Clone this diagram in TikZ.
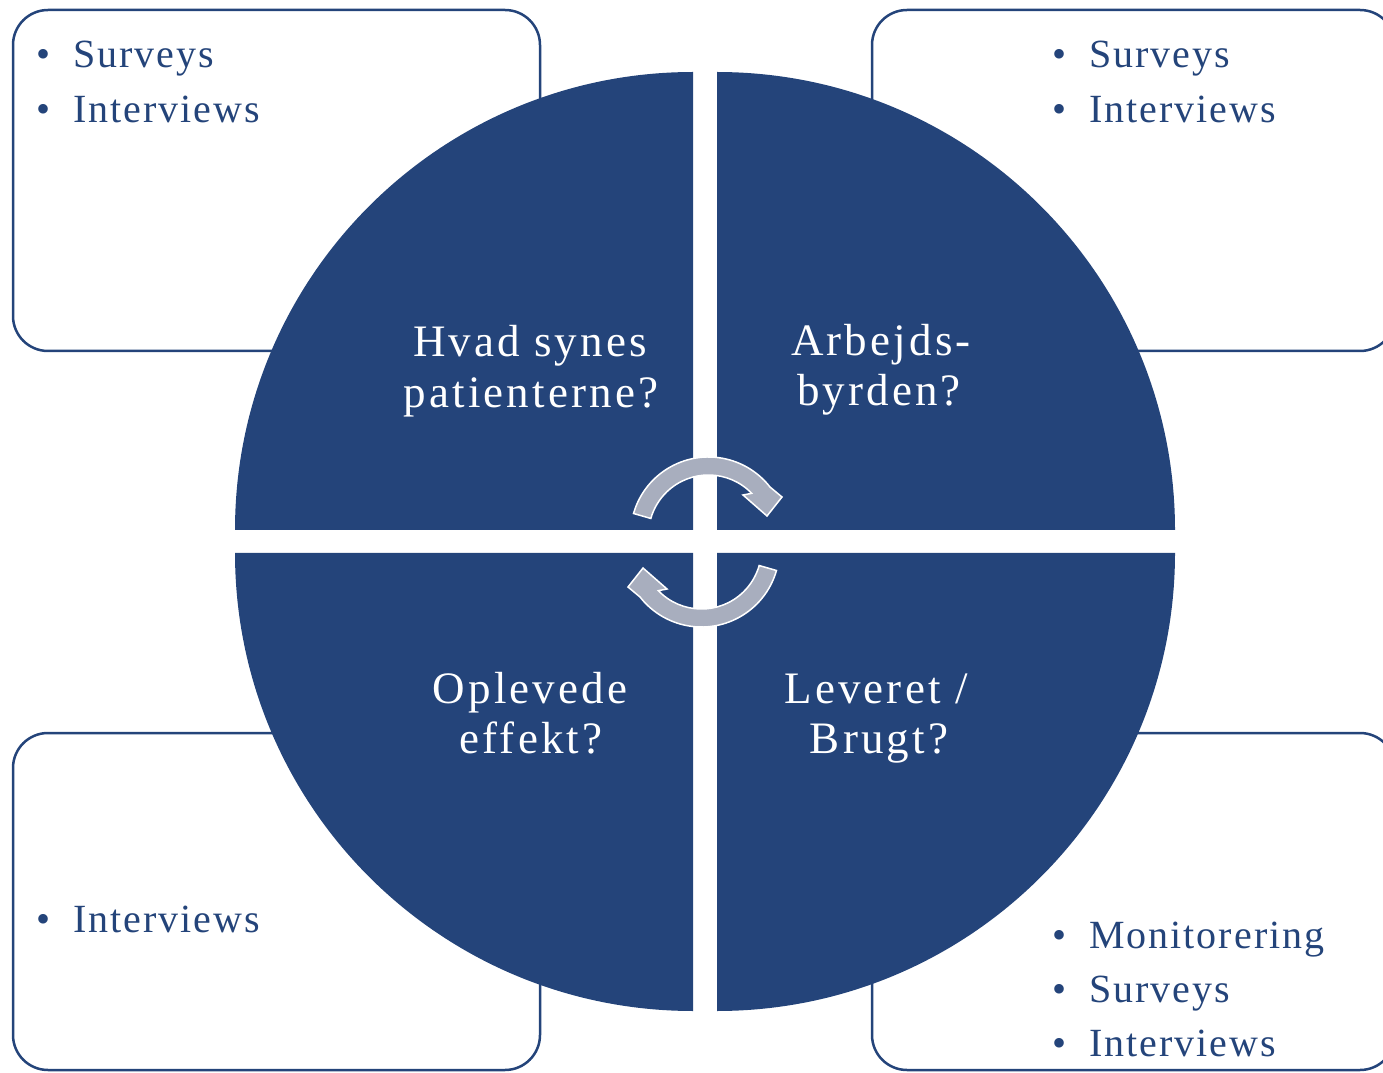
\documentclass[tikz,border=0pt]{standalone}
\usepackage{fontspec}
\setmainfont{Liberation Serif}
\newfontfamily\lblfont[LetterSpace=7]{Liberation Serif}
\newfontfamily\itemfont[LetterSpace=5]{Liberation Serif}
\definecolor{navy}{RGB}{36,68,122}
\definecolor{arrowgray}{RGB}{168,174,190}
\tikzset{
  quarter/.style={fill=navy, draw=none},
  sidebox/.style={draw=navy, line width=2.5pt, fill=white, rounded corners=35pt},
  cyclearrow/.style={fill=arrowgray, draw=white, line width=1.5pt, line join=miter},
  qlabel/.style={text=white, font=\lblfont\fontsize{45}{52}\selectfont, anchor=base, inner sep=0pt},
  item/.style={text=navy, font=\itemfont\fontsize{40}{54}\selectfont, anchor=base west, inner sep=0pt},
  cyc/.pic={
    \begin{scope}[shift={(3.5,7)}]
      \path[cyclearrow] (164:78pt) arc[start angle=164,end angle=38,radius=78pt]
        -- (73.5,38) -- (58.5,19) -- (34.5,40)
        -- (44:60pt) arc[start angle=44,end angle=164,radius=60pt] -- cycle;
    \end{scope}
  }
}
\begin{document}
\begin{tikzpicture}[x=1pt,y=1pt]
\useasboundingbox (0,0) rectangle (1383,1072);
\clip (0,0) rectangle (1383,1072);
% side boxes
\draw[sidebox] (13,721) rectangle (540,1062);
\draw[sidebox] (872,721) rectangle (1395,1062);
\draw[sidebox] (13,2) rectangle (540,339);
\draw[sidebox] (872,2) rectangle (1395,339);
% quarters
\path[quarter] (693,542) -- (235,542) arc[start angle=180,end angle=90,radius=458pt] -- cycle;
\path[quarter] (717,542) -- (717,1000) arc[start angle=90,end angle=0,radius=458pt] -- cycle;
\path[quarter] (693,519) -- (693,61) arc[start angle=270,end angle=180,radius=458pt] -- cycle;
\path[quarter] (717,519) -- (1175,519) arc[start angle=0,end angle=-90,radius=458pt] -- cycle;
% cycle arrows
\coordinate (O) at (705,530);
\pic at (O) {cyc};
\pic[rotate=180] at (O) {cyc};
% quarter labels
\node[qlabel] (q1a) at (530,715) {Hvad synes};
\node[qlabel] (q1b) at (531,664) {patienterne?};
\node[qlabel] (q2a) at (881,716) {Arbejds-};
\node[qlabel] (q2b) at (879,666) {byrden?};
\node[qlabel] (q3a) at (530,369) {Oplevede};
\node[qlabel] (q3b) at (531,319) {effekt?};
\node[qlabel] (q4a) at (876,369) {Leveret /};
\node[qlabel] (q4b) at (879,319) {Brugt?};
% bullet items
\node[item] (tl1) at (36,1004) {\makebox[37pt][l]{•}Surveys};
\node[item] (tl2) at (36,949) {\makebox[37pt][l]{•}Interviews};
\node[item] (tr1) at (1052,1004) {\makebox[37pt][l]{•}Surveys};
\node[item] (tr2) at (1052,949) {\makebox[37pt][l]{•}Interviews};
\node[item] (bl1) at (36,140) {\makebox[37pt][l]{•}Interviews};
\node[item] (br1) at (1052,124) {\makebox[37pt][l]{•}Monitorering};
\node[item] (br2) at (1052,70) {\makebox[37pt][l]{•}Surveys};
\node[item] (br3) at (1052,16) {\makebox[37pt][l]{•}Interviews};
\end{tikzpicture}
\end{document}
